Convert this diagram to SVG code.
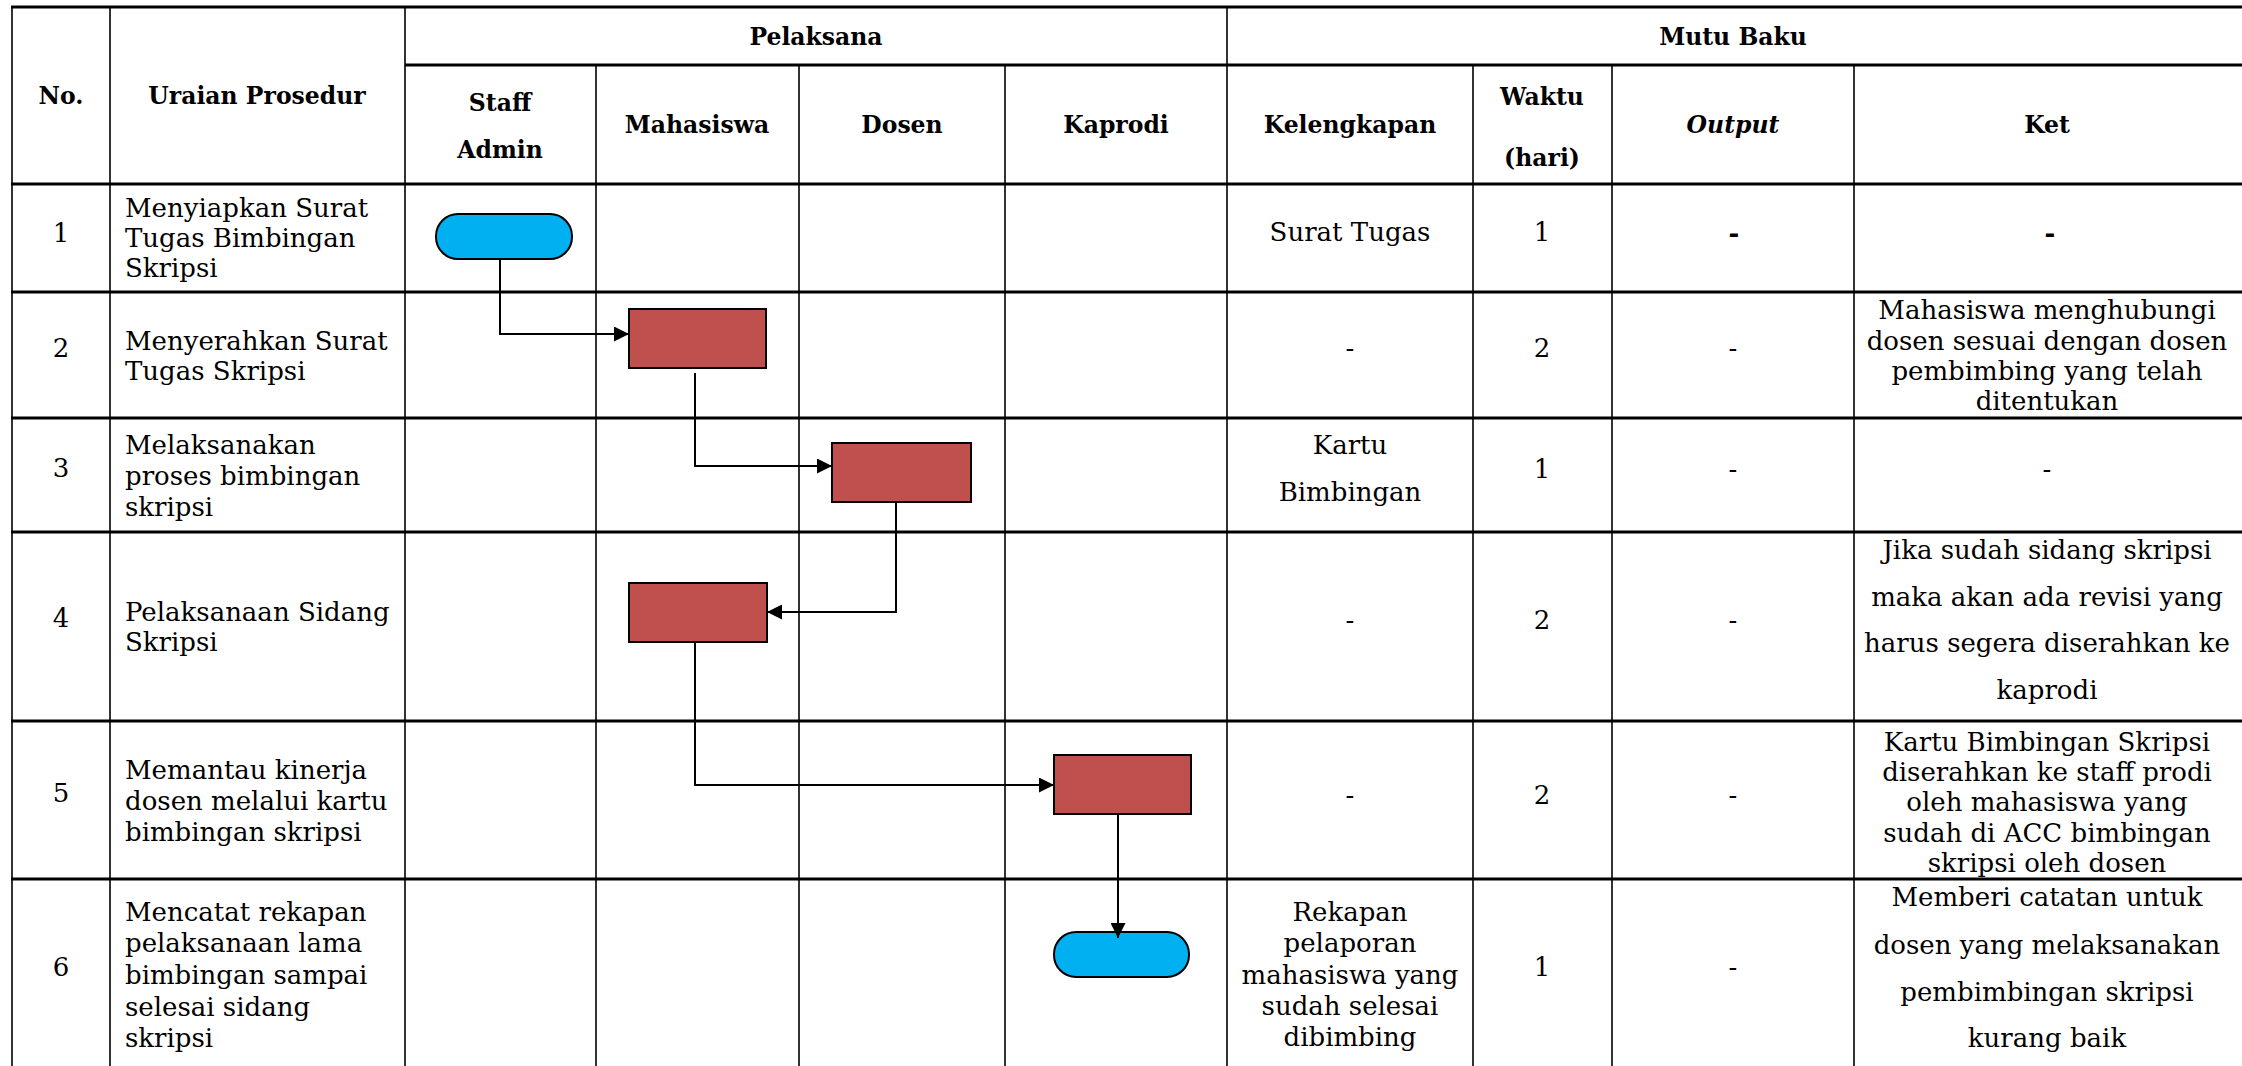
<svg xmlns="http://www.w3.org/2000/svg" width="2242" height="1066" viewBox="0 0 2242 1066">
<style>
.h{font-family:"DejaVu Serif",serif;font-weight:bold;font-size:23.5px;text-anchor:middle;fill:#000}
.t{font-family:"DejaVu Serif",serif;font-size:26px;fill:#000}
.c{text-anchor:middle}
.hl{stroke:#000;stroke-width:3;fill:none}
.vl{stroke:#000;stroke-width:1.6;fill:none}
.proc{fill:#C0504D;stroke:#000;stroke-width:2}
.term{fill:#00B0F0;stroke:#000;stroke-width:2}
.con{stroke:#000;stroke-width:2;fill:none}
</style>
<defs>
<marker id="arr" markerUnits="userSpaceOnUse" markerWidth="15" markerHeight="15" viewBox="0 0 10 10" refX="10" refY="5" orient="auto">
<path d="M0,0 L10,5 L0,10 z" fill="#000"/>
</marker>
</defs>
<rect width="2242" height="1066" fill="#fff"/>
<g id="table">
<path class="hl" d="M11,7 H2242 M405,65 H2242 M11,184 H2242 M11,292 H2242 M11,418 H2242 M11,532 H2242 M11,721 H2242 M11,879 H2242"/>
<path class="vl" d="M12,7 V1066 M110,7 V1066 M405,7 V1066 M1227,7 V1066 M596,65 V1066 M799,65 V1066 M1005,65 V1066 M1473,65 V1066 M1612,65 V1066 M1854,65 V1066"/>
</g>
<g id="headers">
<text class="h" x="816" y="44.5">Pelaksana</text>
<text class="h" x="1733" y="44.5">Mutu Baku</text>
<text class="h" x="61" y="103.5">No.</text>
<text class="h" x="257" y="103.5">Uraian Prosedur</text>
<text class="h" x="500" y="110.5">Staff</text>
<text class="h" x="500" y="157.5">Admin</text>
<text class="h" x="697" y="132.5">Mahasiswa</text>
<text class="h" x="902" y="132.5">Dosen</text>
<text class="h" x="1116" y="132.5">Kaprodi</text>
<text class="h" x="1350" y="132.5">Kelengkapan</text>
<text class="h" x="1542" y="104.5">Waktu</text>
<text class="h" x="1542" y="166">(hari)</text>
<text class="h" x="1733" y="132.5" font-style="italic">Output</text>
<text class="h" x="2047" y="132.5">Ket</text>
</g>
<g id="row1">
<text class="t c" x="61" y="242">1</text>
<text class="t" x="125" y="217">Menyiapkan Surat</text>
<text class="t" x="125" y="247">Tugas Bimbingan</text>
<text class="t" x="125" y="277">Skripsi</text>
<text class="t c" x="1350" y="241">Surat Tugas</text>
<text class="t c" x="1542" y="241">1</text>
<text class="t c" x="1734" y="242" font-weight="bold">-</text>
<text class="t c" x="2050" y="242" font-weight="bold">-</text>
</g>
<g id="row2">
<text class="t c" x="61" y="357">2</text>
<text class="t" x="125" y="350">Menyerahkan Surat</text>
<text class="t" x="125" y="380">Tugas Skripsi</text>
<text class="t c" x="1350" y="357">-</text>
<text class="t c" x="1542" y="357">2</text>
<text class="t c" x="1733" y="357">-</text>
<text class="t c" x="2047" y="319">Mahasiswa menghubungi</text>
<text class="t c" x="2047" y="350">dosen sesuai dengan dosen</text>
<text class="t c" x="2047" y="380">pembimbing yang telah</text>
<text class="t c" x="2047" y="410">ditentukan</text>
</g>
<g id="row3">
<text class="t c" x="61" y="477">3</text>
<text class="t" x="125" y="454">Melaksanakan</text>
<text class="t" x="125" y="485">proses bimbingan</text>
<text class="t" x="125" y="516">skripsi</text>
<text class="t c" x="1350" y="454">Kartu</text>
<text class="t c" x="1350" y="501">Bimbingan</text>
<text class="t c" x="1542" y="478">1</text>
<text class="t c" x="1733" y="478">-</text>
<text class="t c" x="2047" y="478">-</text>
</g>
<g id="row4">
<text class="t c" x="61" y="627">4</text>
<text class="t" x="125" y="621">Pelaksanaan Sidang</text>
<text class="t" x="125" y="651">Skripsi</text>
<text class="t c" x="1350" y="629">-</text>
<text class="t c" x="1542" y="629">2</text>
<text class="t c" x="1733" y="629">-</text>
<text class="t c" x="2047" y="559">Jika sudah sidang skripsi</text>
<text class="t c" x="2047" y="606">maka akan ada revisi yang</text>
<text class="t c" x="2047" y="652">harus segera diserahkan ke</text>
<text class="t c" x="2047" y="699">kaprodi</text>
</g>
<g id="row5">
<text class="t c" x="61" y="802">5</text>
<text class="t" x="125" y="779">Memantau kinerja</text>
<text class="t" x="125" y="810">dosen melalui kartu</text>
<text class="t" x="125" y="841">bimbingan skripsi</text>
<text class="t c" x="1350" y="804">-</text>
<text class="t c" x="1542" y="804">2</text>
<text class="t c" x="1733" y="804">-</text>
<text class="t c" x="2047" y="751">Kartu Bimbingan Skripsi</text>
<text class="t c" x="2047" y="781">diserahkan ke staff prodi</text>
<text class="t c" x="2047" y="811">oleh mahasiswa yang</text>
<text class="t c" x="2047" y="842">sudah di ACC bimbingan</text>
<text class="t c" x="2047" y="872">skripsi oleh dosen</text>
</g>
<g id="row6">
<text class="t c" x="61" y="976">6</text>
<text class="t" x="125" y="921">Mencatat rekapan</text>
<text class="t" x="125" y="952">pelaksanaan lama</text>
<text class="t" x="125" y="984">bimbingan sampai</text>
<text class="t" x="125" y="1016">selesai sidang</text>
<text class="t" x="125" y="1047">skripsi</text>
<text class="t c" x="1350" y="921">Rekapan</text>
<text class="t c" x="1350" y="952">pelaporan</text>
<text class="t c" x="1350" y="984">mahasiswa yang</text>
<text class="t c" x="1350" y="1015">sudah selesai</text>
<text class="t c" x="1350" y="1046">dibimbing</text>
<text class="t c" x="1542" y="976">1</text>
<text class="t c" x="1733" y="976">-</text>
<text class="t c" x="2047" y="906">Memberi catatan untuk</text>
<text class="t c" x="2047" y="954">dosen yang melaksanakan</text>
<text class="t c" x="2047" y="1001">pembimbingan skripsi</text>
<text class="t c" x="2047" y="1047">kurang baik</text>
</g>
<g id="start"><rect class="term" x="436" y="214" width="136" height="45" rx="22" ry="22"/></g>
<g id="step2"><rect class="proc" x="629" y="309" width="137" height="59"/></g>
<g id="step3"><rect class="proc" x="832" y="443" width="139" height="59"/></g>
<g id="step4"><rect class="proc" x="629" y="583" width="138" height="59"/></g>
<g id="step5"><rect class="proc" x="1054" y="755" width="137" height="59"/></g>
<g id="end"><rect class="term" x="1054" y="932" width="135" height="45" rx="22" ry="22"/></g>
<g id="connectors">
<path class="con" d="M500,259 V334 H629" marker-end="url(#arr)"/>
<path class="con" d="M695,373 V466 H832" marker-end="url(#arr)"/>
<path class="con" d="M896,502 V612 H767" marker-end="url(#arr)"/>
<path class="con" d="M695,642 V785 H1054" marker-end="url(#arr)"/>
<path class="con" d="M1118,814 V938" marker-end="url(#arr)"/>
</g>
</svg>
